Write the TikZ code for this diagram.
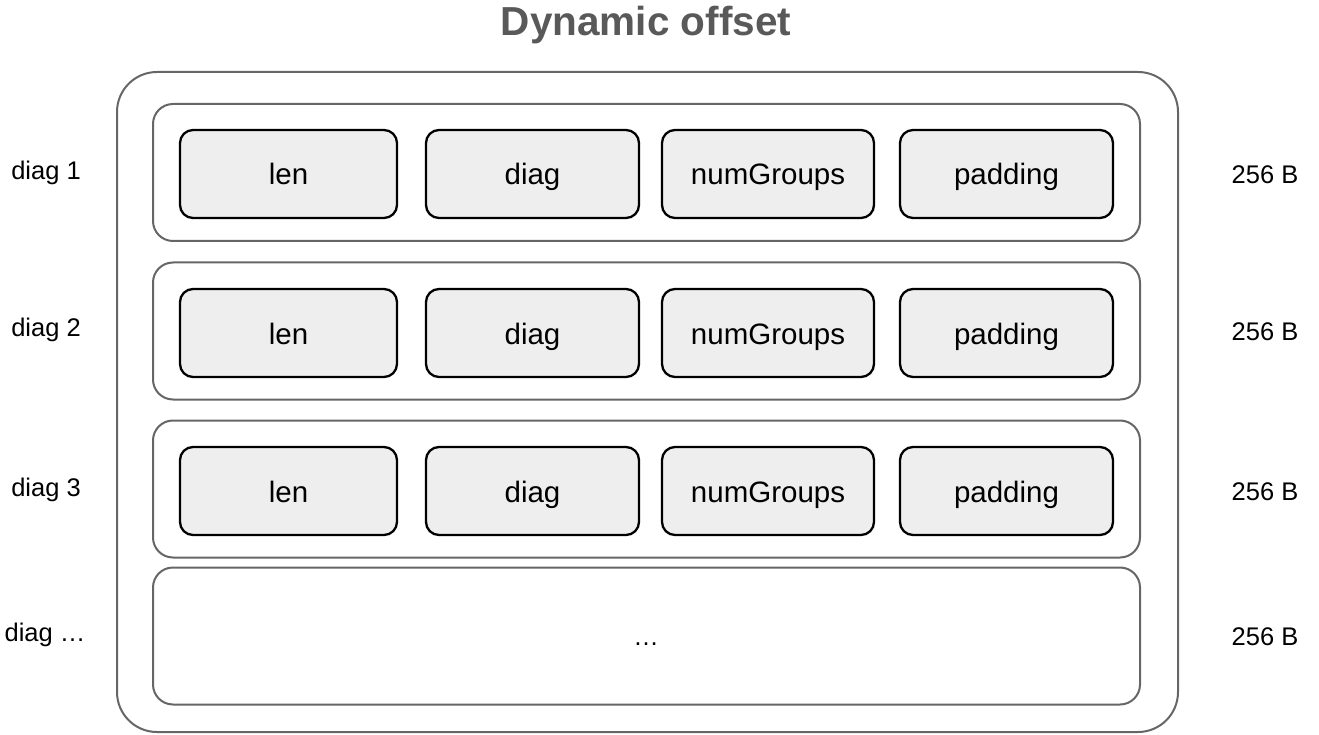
\documentclass[tikz,border=0pt]{standalone}
\usepackage{fontspec}
\setmainfont{Liberation Sans}
\definecolor{framegray}{HTML}{666666}
\definecolor{titlegray}{HTML}{595959}
\definecolor{cellfill}{HTML}{EEEEEE}
\begin{document}
\begin{tikzpicture}[x=1pt,y=-1pt,
  outerbox/.style={draw=framegray,line width=2pt,rounded corners=40pt,
    minimum width=1061pt,minimum height=660pt,inner sep=0pt},
  rowbox/.style={draw=framegray,line width=2pt,rounded corners=20pt,
    minimum width=987pt,minimum height=137pt,inner sep=0pt},
  cellbox/.style={draw=black,line width=2.3pt,fill=cellfill,rounded corners=13pt,
    minimum height=88pt,inner sep=0pt,text height=22pt,text depth=0pt,
    font=\fontsize{29.5}{34}\selectfont},
  sidelabel/.style={anchor=base,inner sep=0pt,font=\fontsize{25.5}{30}\selectfont},
  titletext/.style={anchor=base,inner sep=0pt,text=titlegray,
    font=\bfseries\fontsize{40.5}{46}\selectfont}]
\useasboundingbox (0,0) rectangle (1319,735);

\node[titletext] (title) at (646,36) {Dynamic offset};

\node[outerbox] (outer) at (647.5,402) {};

% three filled rows plus the trailing placeholder row
\foreach \r/\ry/\cy in {1/172.5/174, 2/331/333, 3/489/491}{
  \node[rowbox] (row\r) at (646.5,\ry) {};
  \node[cellbox,minimum width=217pt] (len\r) at (288.5,\cy) {len};
  \node[cellbox,minimum width=213pt] (diag\r) at (532.5,\cy) {diag};
  \node[cellbox,minimum width=212pt] (num\r) at (768,\cy) {numGroups};
  \node[cellbox,minimum width=213pt] (pad\r) at (1006.5,\cy) {padding};
}
\node[rowbox] (row4) at (646.5,636) {};
\node[anchor=base,inner sep=0pt,font=\fontsize{25.5}{30}\selectfont] (more) at (646,645) {…};

% row labels and sizes
\node[sidelabel] (lab1) at (46,180) {diag 1};
\node[sidelabel] (lab2) at (46,336) {diag 2};
\node[sidelabel] (lab3) at (46,496) {diag 3};
\node[sidelabel] (lab4) at (45,641) {diag …};
\node[sidelabel] (size1) at (1265,184) {256 B};
\node[sidelabel] (size2) at (1265,340) {256 B};
\node[sidelabel] (size3) at (1265,500) {256 B};
\node[sidelabel] (size4) at (1265,645) {256 B};
\end{tikzpicture}
\end{document}
